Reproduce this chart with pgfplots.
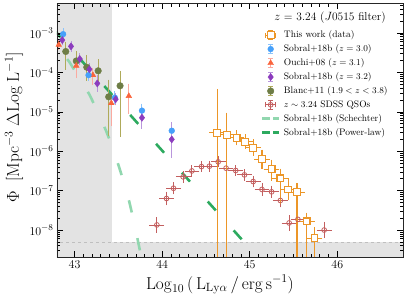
\documentclass[border=0pt]{standalone}
\usepackage{pgfplots}
\usepackage{pgfplotstable}
\pgfplotsset{compat=1.18}
\usetikzlibrary{plotmarks}

\definecolor{cOrange}{RGB}{236,150,40}
\definecolor{cBlue}{RGB}{70,160,250}
\definecolor{cBlueE}{RGB}{140,195,250}
\definecolor{cTom}{RGB}{250,100,60}
\definecolor{cTomE}{RGB}{250,170,160}
\definecolor{cPurp}{RGB}{140,60,190}
\definecolor{cPurpE}{RGB}{185,150,220}
\definecolor{cOlive}{RGB}{110,125,70}
\definecolor{cOliveE}{RGB}{175,170,90}
\definecolor{cQSO}{RGB}{195,95,95}
\definecolor{cSch}{RGB}{145,215,175}
\definecolor{cPow}{RGB}{45,170,95}
\definecolor{cShade}{RGB}{227,227,227}

\pgfplotstableread{
x ly xe up dn
44.63 -5.53 0.05 1.02 5
44.74 -5.58 0.05 0.47 5
44.85 -5.66 0.05 0.10 0.10
44.95 -5.76 0.05 0.10 0.10
45.04 -5.91 0.05 0.12 0.12
45.14 -6.20 0.05 0.15 0.15
45.25 -6.46 0.05 0.16 0.20
45.35 -6.69 0.05 0.16 0.55
45.44 -6.97 0.05 0.19 0.19
45.54 -7.04 0.05 0.14 5
45.65 -7.78 0.05 0.13 5
45.74 -8.21 0.05 0.20 5
}\thiswork

\pgfplotstableread{
x ly up dn
42.87 -3.03 0.08 0.08
43.16 -4.07 0.08 0.08
43.46 -4.64 0.08 0.08
43.77 -4.97 0.10 0.10
44.11 -5.48 0.15 0.15
}\sobralA

\pgfplotstableread{
x ly up dn
42.86 -3.18 0.06 0.06
42.96 -3.34 0.06 0.06
43.06 -3.66 0.07 0.07
43.17 -3.92 0.08 0.08
43.26 -4.28 0.13 0.13
43.47 -4.68 0.08 0.08
43.77 -5.15 0.14 0.20
44.11 -5.70 0.36 0.40
}\sobralB

\pgfplotstableread{
x ly up dn
42.82 -3.30 0.06 0.06
43.02 -3.83 0.06 0.24
43.21 -4.07 0.11 0.17
43.42 -4.78 0.10 0.51
43.62 -4.60 0.24 0.37
}\ouchi

\pgfplotstableread{
x ly up dn
42.90 -3.47 0.17 0.39
43.02 -3.71 0.17 0.19
43.14 -3.87 0.24 0.26
43.27 -3.96 0.22 0.28
43.39 -4.62 0.36 0.93
43.52 -4.34 0.30 1.22
}\blanc

\pgfplotstableread{
x ly xe up dn
43.94 -7.87 0.05 0.12 0.12
44.05 -7.20 0.05 0.10 0.10
44.13 -6.94 0.05 0.08 0.08
44.24 -6.65 0.05 0.07 0.07
44.34 -6.50 0.05 0.07 0.07
44.45 -6.39 0.05 0.06 0.06
44.54 -6.38 0.05 0.06 0.06
44.64 -6.27 0.05 0.06 0.06
44.73 -6.43 0.05 0.06 0.06
44.84 -6.49 0.05 0.06 0.06
44.94 -6.60 0.05 0.07 0.07
45.04 -6.77 0.05 0.07 0.07
45.14 -6.97 0.05 0.08 0.08
45.25 -7.03 0.05 0.08 0.08
45.35 -7.25 0.05 0.10 0.10
45.45 -7.82 0.05 0.12 0.12
45.55 -7.73 0.05 0.12 0.12
45.85 -8.00 0.05 0.13 0.13
}\qso

\pgfplotsset{
  table/logtab/.style={x=x, y expr={10^(\thisrow{ly})},
    y error plus expr={10^(\thisrow{ly}+\thisrow{up})-10^(\thisrow{ly})},
    y error minus expr={10^(\thisrow{ly})-10^(\thisrow{ly}-\thisrow{dn})}},
  errimg/.style n args={2}{legend image code/.code={%
    \draw[#1, line width=0.9pt] (0.3cm,-4.5bp)--(0.3cm,4.5bp) (0.3cm-2.5bp,4.5bp)--(0.3cm+2.5bp,4.5bp) (0.3cm-2.5bp,-4.5bp)--(0.3cm+2.5bp,-4.5bp);
    \draw[#2] plot coordinates {(0.3cm,0cm)};
  }},
  errimgx/.style n args={2}{legend image code/.code={%
    \draw[#1] (0.3cm,-4.5bp)--(0.3cm,4.5bp) (0.3cm-2.5bp,4.5bp)--(0.3cm+2.5bp,4.5bp) (0.3cm-2.5bp,-4.5bp)--(0.3cm+2.5bp,-4.5bp)
      (0.3cm-4.8bp,0bp)--(0.3cm+4.8bp,0bp) (0.3cm-4.8bp,-2.5bp)--(0.3cm-4.8bp,2.5bp) (0.3cm+4.8bp,-2.5bp)--(0.3cm+4.8bp,2.5bp);
    \draw[#2] plot coordinates {(0.3cm,0cm)};
  }},
}

\begin{document}
\begin{tikzpicture}
\begin{axis}[
  width=346bp, height=254bp, scale only axis,
  xmin=42.8, xmax=46.75, ymin=2.07e-9, ymax=5.76e-3, ymode=log,
  xtick={43,44,45,46}, minor x tick num=9,
  tick align=inside, major tick length=6bp, minor tick length=3.5bp,
  every tick/.style={black, line width=0.6pt},
  axis line style={black!85, line width=0.7pt},
  axis on top=true,
  tick label style={font=\fontsize{12.5}{14}\selectfont},
  xlabel={$\mathrm{Log}_{10}\,\big(\,\mathrm{L}_{\mathrm{Ly}\alpha}\,/\,\mathrm{erg\,s^{-1}}\big)$},
  ylabel={$\Phi\;\;\big[\mathrm{Mpc^{-3}}\;\Delta\mathrm{Log\;L^{-1}}\big]$},
  xlabel style={font=\fontsize{16.5}{19}\selectfont, at={(axis description cs:0.471,-0.126)}, anchor=base},
  ylabel style={font=\fontsize{18}{21}\selectfont, at={(axis description cs:-0.124,0.51)}, anchor=center},
  legend cell align=left,
  legend style={draw=none, fill=none, at={(axis description cs:0.58,0.907)}, anchor=north west,
    font=\fontsize{9.5}{11}\selectfont, row sep=1.4bp, column sep=1.5bp},
]
\coordinate (SW) at (rel axis cs:0,0);
\coordinate (NE) at (rel axis cs:1,1);

% shaded regions
\addplot[fill=cShade, draw=none, forget plot] coordinates {(42.7,1e-10) (43.43,1e-10) (43.43,1) (42.7,1)} -- cycle;
\addplot[fill=cShade, draw=none, forget plot] coordinates {(42.7,1e-10) (47,1e-10) (47,5e-9) (42.7,5e-9)} -- cycle;
\addplot[black!25, dashed, line width=0.6pt, forget plot] coordinates {(42.7,5e-9) (47,5e-9)};

% Schechter
\addplot[cSch, line width=2.6bp, dash pattern=on 12.5bp off 26.25bp, dash phase=22.5bp, forget plot] coordinates {
(42.80,4.57e-4) (42.94,1.86e-4) (43.06,6.9e-5) (43.17,2.75e-5) (43.27,9.5e-6) (43.36,3.31e-6)
(43.44,1.17e-6) (43.51,3.89e-7) (43.57,1.45e-7) (43.625,5.25e-8) (43.68,1.58e-8) (43.73,4.57e-9) (43.77,1.66e-9)};
% Power law
\addplot[cPow, line width=2.6bp, dash pattern=on 12bp off 26.75bp, dash phase=32.2bp, forget plot] coordinates {
(42.70,1.74e-3) (45.15,1.46e-9)};

% Blanc+11
\addplot[only marks, mark=*, mark size=3.3bp, cOlive, mark options={fill=cOlive, draw=cOlive}, forget plot,
  error bars/.cd, y dir=both, y explicit, error bar style={cOliveE, line width=1pt},
  error mark options={cOliveE, mark size=3bp, line width=1pt}]
  table[logtab] {\blanc};
% Ouchi+08
\addplot[only marks, mark=triangle*, mark size=3.3bp, cTom, mark options={fill=cTom, draw=cTom}, forget plot,
  error bars/.cd, y dir=both, y explicit, error bar style={cTomE, line width=1pt},
  error mark options={cTomE, mark size=3bp, line width=1pt}]
  table[logtab] {\ouchi};
% Sobral z=3.0
\addplot[only marks, mark=*, mark size=2.9bp, cBlue, mark options={fill=cBlue, draw=cBlue}, forget plot,
  error bars/.cd, y dir=both, y explicit, error bar style={cBlueE, line width=1pt},
  error mark options={cBlueE, mark size=3bp, line width=1pt}]
  table[logtab] {\sobralA};
% Sobral z=3.2
\addplot[only marks, mark=diamond*, mark size=3.6bp, cPurp, mark options={fill=cPurp, draw=cPurp}, forget plot,
  error bars/.cd, y dir=both, y explicit, error bar style={cPurpE, line width=1pt},
  error mark options={cPurpE, mark size=3bp, line width=1pt}]
  table[logtab] {\sobralB};
% QSOs
\addplot[only marks, mark=o, mark size=2.4bp, cQSO, mark options={draw=cQSO, line width=0.8pt}, forget plot,
  error bars/.cd, x dir=both, x explicit, y dir=both, y explicit, error bar style={cQSO, line width=0.8pt},
  error mark options={cQSO, mark size=3bp, line width=0.8pt}]
  table[logtab, x error=xe] {\qso};
% This work
\addplot[only marks, mark=square*, mark size=3.4bp, cOrange, mark options={fill=white, draw=cOrange, line width=1.1pt}, forget plot,
  error bars/.cd, x dir=both, x explicit, y dir=both, y explicit, error bar style={cOrange, line width=1.1pt},
  error mark options={cOrange, mark size=3.5bp, line width=1.1pt}]
  table[logtab, x error=xe] {\thiswork};

% legend
\addlegendimage{errimgx={cOrange, line width=1.1pt}{cOrange, mark=square*, mark size=3.4bp, mark options={fill=white, draw=cOrange, line width=1.1pt}}}
\addlegendentry{This work (data)}
\addlegendimage{errimg={cBlueE}{cBlue, mark=*, mark size=2.9bp, mark options={fill=cBlue, draw=cBlue}}}
\addlegendentry{Sobral+18b ($z=3.0$)}
\addlegendimage{errimg={cTomE}{cTom, mark=triangle*, mark size=3.3bp, mark options={fill=cTom, draw=cTom}}}
\addlegendentry{Ouchi+08 ($z=3.1$)}
\addlegendimage{errimg={cPurpE}{cPurp, mark=diamond*, mark size=3.6bp, mark options={fill=cPurp, draw=cPurp}}}
\addlegendentry{Sobral+18b ($z=3.2$)}
\addlegendimage{errimg={cOliveE}{cOlive, mark=*, mark size=3.3bp, mark options={fill=cOlive, draw=cOlive}}}
\addlegendentry{Blanc+11 ($1.9<z<3.8$)}
\addlegendimage{errimgx={cQSO, line width=0.8pt}{cQSO, mark=o, mark size=2.4bp, mark options={draw=cQSO, line width=0.8pt}}}
\addlegendentry{$z\sim3.24$ SDSS QSOs}
\addlegendimage{cSch, line width=2.6bp, dash pattern=on 7.5bp off 3.5bp}
\addlegendentry{Sobral+18b (Schechter)}
\addlegendimage{cPow, line width=2.6bp, dash pattern=on 7.5bp off 3.5bp}
\addlegendentry{Sobral+18b (Power-law)}

\node[font=\fontsize{11.5}{13}\selectfont, anchor=base] at (axis description cs:0.789,0.933) {$z$ = 3.24 ($J$0515 filter)};
\end{axis}
\pgfresetboundingbox
\useasboundingbox ([shift={(-57bp,-41bp)}]SW) rectangle ([shift={(4bp,3bp)}]NE);
\end{tikzpicture}
\end{document}
